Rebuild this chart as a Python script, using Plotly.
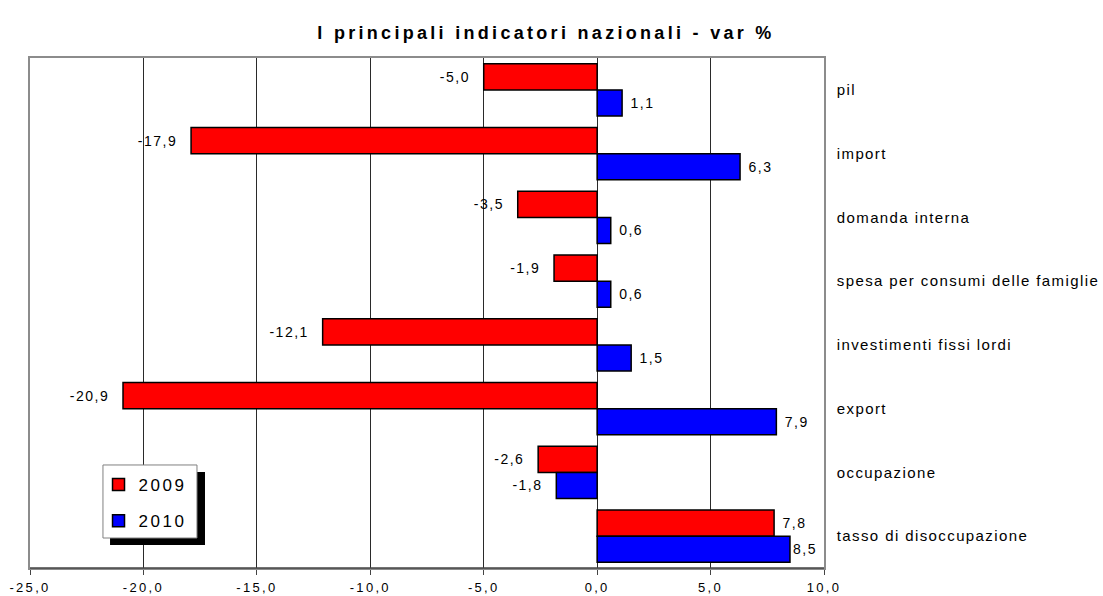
import plotly.graph_objects as go

categories = ["pil", "import", "domanda interna", "spesa per consumi delle famiglie",
              "investimenti fissi lordi", "export", "occupazione", "tasso di disoccupazione"]
values_2009 = [-5.0, -17.9, -3.5, -1.9, -12.1, -20.9, -2.6, 7.8]
values_2010 = [1.1, 6.3, 0.6, 0.6, 1.5, 7.9, -1.8, 8.5]
x_ticks = [-25, -20, -15, -10, -5, 0, 5, 10]
series_names = ["2009", "2010"]

FONT = "Liberation Sans, Arial, sans-serif"
X_RANGE = [-25, 10]


def sp(text, ls):
    return f'<span style="letter-spacing:{ls}px">{text}</span>'


def fmt(v):
    return f"{v:.1f}".replace(".", ",")


def bar_label(v):
    s = fmt(v)
    if v < 0:
        s = s + "\u00a0\u00a0"
    elif v + 1.6 < X_RANGE[1]:
        s = "\u00a0" + s
    return sp(s, 1.5)


fig = go.Figure()
for i, (name, vals, color) in enumerate(zip(series_names, [values_2009, values_2010],
                                             ["#FF0000", "#0000FF"])):
    fig.add_trace(go.Bar(
        name=sp(name, 2.5), y=categories, x=vals, orientation="h",
        legendgroup=f"g{i}",
        marker=dict(color=color, line=dict(color="black", width=1.5)),
        text=[bar_label(v) for v in vals], texttemplate="%{text}", textposition="outside",
        textfont=dict(size=14, color="black", family=FONT),
        cliponaxis=False,
    ))

fig.update_layout(
    width=1103, height=596,
    margin=dict(l=30, r=279, t=58, b=28),
    paper_bgcolor="white", plot_bgcolor="white",
    barmode="group", bargap=0.18, bargroupgap=0.0,
    font=dict(family=FONT, color="black"),
    title=dict(text="<b>" + sp("I principali indicatori nazionali - var %", 3.3) + "</b>",
               x=0.495, xanchor="center", y=0.9446, yanchor="middle",
               font=dict(size=18, color="black", family=FONT)),
    xaxis=dict(range=X_RANGE, tickmode="array", tickvals=x_ticks,
               ticktext=[sp(fmt(t), 2.3) for t in x_ticks], automargin=False,
               showgrid=True, gridcolor="#2a2a2a", gridwidth=1,
               zeroline=True, zerolinecolor="#2a2a2a", zerolinewidth=1,
               showline=True, linecolor="#8c8c8c", linewidth=1.5, mirror=True,
               ticks="outside", ticklen=5, tickcolor="#444444", ticklabelstandoff=2,
               tickfont=dict(size=13, family=FONT)),
    yaxis=dict(categoryorder="array", categoryarray=categories, autorange="reversed",
               tickmode="array", tickvals=categories, automargin=False,
               ticktext=[sp(c, 1.4) for c in categories],
               side="right", showgrid=False, showline=True, linecolor="#8c8c8c",
               linewidth=1.5, mirror=True, ticks="", ticklabelstandoff=8,
               tickfont=dict(size=15, family=FONT)),
    legend=dict(x=0.0863, y=0.198, xanchor="left", yanchor="top", xref="paper", yref="paper",
                bgcolor="rgba(0,0,0,0)", borderwidth=0,
                font=dict(size=17, family=FONT), tracegroupgap=11,
                itemwidth=30),
    showlegend=True,
)

# bottom axis line darker
fig.add_shape(type="line", xref="paper", yref="paper", x0=0, x1=1, y0=0, y1=0,
              line=dict(color="#444444", width=1.5), layer="above")
# legend shadow and box
fig.add_shape(type="rect", xref="paper", yref="paper",
              x0=0.1008, x1=0.2204, y0=0.0451, y1=0.188,
              fillcolor="black", line=dict(width=0), layer="above")
fig.add_shape(type="rect", xref="paper", yref="paper",
              x0=0.0919, x1=0.2103, y0=0.0588, y1=0.202,
              fillcolor="white", line=dict(color="#808080", width=1), layer="above")

fig.write_html("out.html", config={"displayModeBar": False},
               post_script="document.body.style.margin='0px';")
